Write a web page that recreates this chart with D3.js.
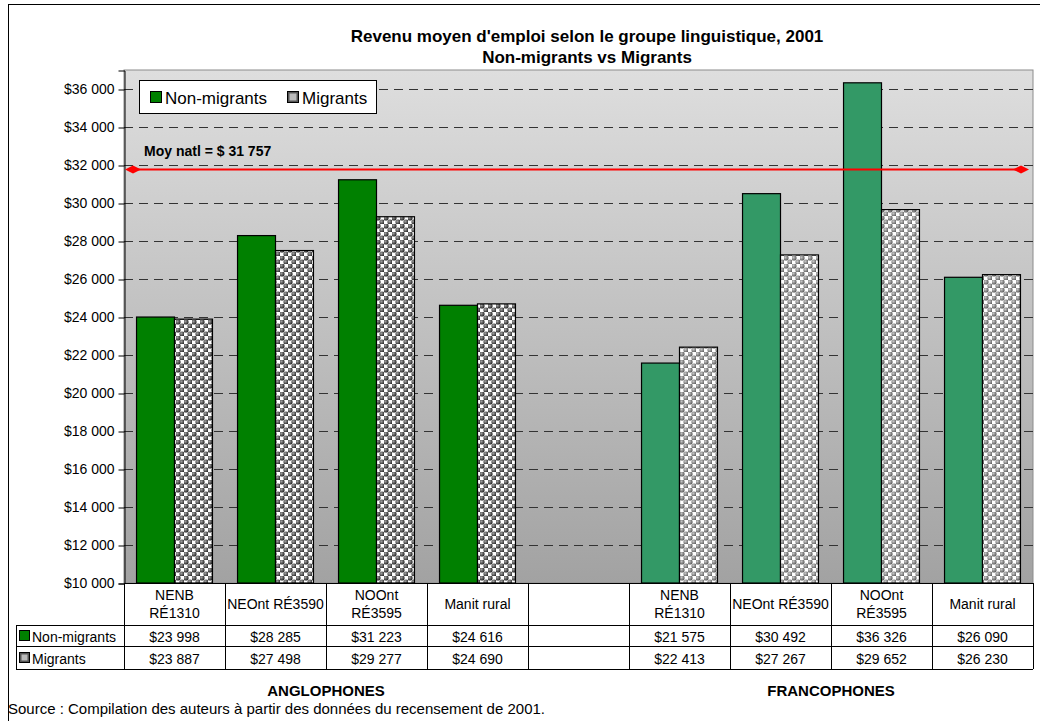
<!DOCTYPE html>
<html>
<head>
<meta charset="utf-8">
<script src="https://cdn.jsdelivr.net/npm/d3@7"></script>
<style>
  body { margin: 0; background: #fff; }
  text { font-family: "Liberation Sans", Arial, sans-serif; }
</style>
</head>
<body>
<script>
var width = 1040;
var height = 721;

// data
var categories = ["NENB\nRÉ1310", "NEOnt RÉ3590", "NOOnt\nRÉ3595", "Manit rural", "",
                  "NENB\nRÉ1310", "NEOnt RÉ3590", "NOOnt\nRÉ3595", "Manit rural"];
var nonMigrants = [23998, 28285, 31223, 24616, null, 21575, 30492, 36326, 26090];
var migrants    = [23887, 27498, 29277, 24690, null, 22413, 27267, 29652, 26230];
var groupOf     = ["a", "a", "a", "a", "", "f", "f", "f", "f"];
var yTicks = [10000, 12000, 14000, 16000, 18000, 20000, 22000, 24000, 26000, 28000, 30000, 32000, 34000, 36000];
var nationalAvg = 31757;
var groupLabels = ["ANGLOPHONES", "FRANCOPHONES"];

var plot = { left: 124, right: 1033, top: 70, bottom: 583 };

var svg = d3.select("body").append("svg")
    .attr("width", width)
    .attr("height", height);

var defs = svg.append("defs");

var bg = defs.append("linearGradient").attr("id", "bg")
    .attr("x1", 0).attr("y1", 0).attr("x2", 0).attr("y2", 1);
bg.append("stop").attr("offset", "0%").attr("stop-color", "#dedede");
bg.append("stop").attr("offset", "100%").attr("stop-color", "#a2a2a2");

// sphere patterns for migrants
function spherePattern(id, dark, light) {
  var g = defs.append("radialGradient").attr("id", id + "g")
      .attr("cx", "38%").attr("cy", "38%").attr("r", "62%");
  g.append("stop").attr("offset", "0%").attr("stop-color", light);
  g.append("stop").attr("offset", "100%").attr("stop-color", dark);
  var p = defs.append("pattern").attr("id", id)
      .attr("patternUnits", "userSpaceOnUse")
      .attr("width", 8).attr("height", 8);
  p.append("rect").attr("width", 8).attr("height", 8).attr("fill", "#fff");
  p.append("circle").attr("cx", 2).attr("cy", 2).attr("r", 2.6).attr("fill", "url(#" + id + "g)");
  p.append("circle").attr("cx", 6).attr("cy", 6).attr("r", 2.6).attr("fill", "url(#" + id + "g)");
}
spherePattern("patA", "#262626", "#a0a0a0");
spherePattern("patF", "#5e5e5e", "#c8c8c8");

var nonColor = { a: "#008000", f: "#339966" };
var migFill = { a: "url(#patA)", f: "url(#patF)" };

// outer frame
svg.append("rect")
    .attr("x", 8.5).attr("y", 4.5)
    .attr("width", 1040).attr("height", 730)
    .attr("fill", "none").attr("stroke", "#000");

var x = d3.scaleBand()
    .domain(d3.range(categories.length))
    .range([plot.left, plot.right]);

var xSub = d3.scaleBand()
    .domain(["n", "m"])
    .range([0, x.bandwidth()])
    .paddingOuter(0.33);

var y = d3.scaleLinear()
    .domain([10000, 37000])
    .range([plot.bottom, plot.top]);

// plot background
svg.append("rect")
    .attr("x", plot.left).attr("y", plot.top)
    .attr("width", plot.right - plot.left).attr("height", plot.bottom - plot.top)
    .attr("fill", "url(#bg)").attr("stroke", "#8c8c8c");

// gridlines
svg.append("g")
  .selectAll("line")
  .data(yTicks.slice(1))
  .enter().append("line")
    .attr("x1", plot.left).attr("x2", plot.right)
    .attr("y1", function(d) { return Math.round(y(d)) + 0.5; })
    .attr("y2", function(d) { return Math.round(y(d)) + 0.5; })
    .attr("stroke", "#333")
    .attr("stroke-dasharray", "9,6");

// y axis
var yAxis = svg.append("g")
    .attr("transform", "translate(" + (plot.left + 0.5) + ",0.5)")
    .call(d3.axisLeft(y)
      .tickValues(yTicks)
      .tickSize(6)
      .tickFormat(function(d) { return "$" + d3.format(",")(d).replace(",", " "); }));
yAxis.select(".domain").attr("stroke", "#000");
yAxis.selectAll(".tick line").attr("stroke", "#000");
yAxis.selectAll(".tick text")
    .attr("font-size", 14).attr("fill", "#000").attr("x", -10)
    .attr("font-family", "Liberation Sans, Arial, sans-serif");

// bars
var idx = d3.range(categories.length).filter(function(i) { return nonMigrants[i] != null; });

svg.append("g").selectAll("rect")
  .data(idx)
  .enter().append("rect")
    .attr("x", function(i) { return x(i) + xSub("n"); })
    .attr("y", function(i) { return y(nonMigrants[i]); })
    .attr("width", xSub.bandwidth())
    .attr("height", function(i) { return y(10000) - y(nonMigrants[i]); })
    .attr("fill", function(i) { return nonColor[groupOf[i]]; })
    .attr("stroke", "#000").attr("stroke-width", 1.2);

svg.append("g").selectAll("rect")
  .data(idx)
  .enter().append("rect")
    .attr("x", function(i) { return x(i) + xSub("m"); })
    .attr("y", function(i) { return y(migrants[i]); })
    .attr("width", xSub.bandwidth())
    .attr("height", function(i) { return y(10000) - y(migrants[i]); })
    .attr("fill", function(i) { return migFill[groupOf[i]]; })
    .attr("stroke", "#000").attr("stroke-width", 1.2);

// national average line
var avgY = y(nationalAvg);
svg.append("line")
    .attr("x1", plot.left + 8).attr("x2", plot.right - 8)
    .attr("y1", avgY).attr("y2", avgY)
    .attr("stroke", "#ff0000").attr("stroke-width", 2);
[plot.left + 9, plot.right - 12].forEach(function(cx) {
  svg.append("path")
      .attr("d", "M" + (cx - 8) + "," + avgY + "L" + cx + "," + (avgY - 4) + "L" + (cx + 8) + "," + avgY + "L" + cx + "," + (avgY + 4) + "Z")
      .attr("fill", "#ff0000");
});
svg.append("text")
    .attr("x", 144).attr("y", 156)
    .attr("font-size", 14).attr("font-weight", "bold")
    .text("Moy natl = $ " + d3.format(",")(nationalAvg).replace(",", " "));

// legend
var legend = svg.append("g");
legend.append("rect")
    .attr("x", 139.5).attr("y", 80.5).attr("width", 237).attr("height", 33)
    .attr("fill", "#fff").attr("stroke", "#000");
legend.append("rect")
    .attr("x", 150.5).attr("y", 91.5).attr("width", 11).attr("height", 11)
    .attr("fill", nonColor.a).attr("stroke", "#000");
legend.append("text").attr("x", 165).attr("y", 104).attr("font-size", 17).text("Non-migrants");
legend.append("rect")
    .attr("x", 287.5).attr("y", 91.5).attr("width", 11).attr("height", 11)
    .attr("fill", "#555").attr("stroke", "#000");
legend.append("rect")
    .attr("x", 289.5).attr("y", 93.5).attr("width", 7).attr("height", 7)
    .attr("fill", "#bbb");
legend.append("text").attr("x", 302).attr("y", 104).attr("font-size", 17).text("Migrants");

// title
var title = svg.append("text")
    .attr("x", 587).attr("text-anchor", "middle")
    .attr("font-size", 17).attr("font-weight", "bold");
title.append("tspan").attr("x", 587).attr("y", 42).text("Revenu moyen d'emploi selon le groupe linguistique, 2001");
title.append("tspan").attr("x", 587).attr("y", 63).text("Non-migrants vs Migrants");

// data table
var tbl = { left: 16, headBottom: 625, rowMid: 646, bottom: 669 };
var t = svg.append("g").attr("stroke", "#000").attr("shape-rendering", "crispEdges");
t.append("line").attr("x1", plot.left).attr("x2", plot.right).attr("y1", plot.bottom + 0.5).attr("y2", plot.bottom + 0.5);
[tbl.headBottom, tbl.rowMid, tbl.bottom].forEach(function(yy) {
  t.append("line").attr("x1", tbl.left).attr("x2", plot.right).attr("y1", yy + 0.5).attr("y2", yy + 0.5);
});
t.append("line").attr("x1", tbl.left + 0.5).attr("x2", tbl.left + 0.5).attr("y1", tbl.headBottom).attr("y2", tbl.bottom);
d3.range(categories.length + 1).forEach(function(i) {
  var xx = i < categories.length ? x(i) : plot.right;
  t.append("line").attr("x1", Math.round(xx) + 0.5).attr("x2", Math.round(xx) + 0.5)
      .attr("y1", plot.bottom).attr("y2", tbl.bottom);
});

categories.forEach(function(c, i) {
  var lines = c.split("\n");
  var cx = x(i) + x.bandwidth() / 2;
  var txt = svg.append("text").attr("text-anchor", "middle").attr("font-size", 14);
  lines.forEach(function(l, k) {
    var yy = lines.length == 1 ? 609 : 600 + k * 18;
    txt.append("tspan").attr("x", cx).attr("y", yy).text(l);
  });
});

function fmt(v) { return v == null ? "" : "$" + d3.format(",")(v).replace(",", " "); }

svg.append("g").selectAll("text")
  .data(idx).enter().append("text")
    .attr("x", function(i) { return x(i) + x.bandwidth() / 2; })
    .attr("y", 642).attr("text-anchor", "middle").attr("font-size", 14)
    .text(function(i) { return fmt(nonMigrants[i]); });
svg.append("g").selectAll("text")
  .data(idx).enter().append("text")
    .attr("x", function(i) { return x(i) + x.bandwidth() / 2; })
    .attr("y", 664).attr("text-anchor", "middle").attr("font-size", 14)
    .text(function(i) { return fmt(migrants[i]); });

// row keys
svg.append("rect").attr("x", 19.5).attr("y", 630.5).attr("width", 10).attr("height", 10)
    .attr("fill", nonColor.a).attr("stroke", "#000");
svg.append("text").attr("x", 32).attr("y", 642).attr("font-size", 14).text("Non-migrants");
svg.append("rect").attr("x", 19.5).attr("y", 652.5).attr("width", 10).attr("height", 10)
    .attr("fill", "#555").attr("stroke", "#000");
svg.append("rect").attr("x", 21.5).attr("y", 654.5).attr("width", 6).attr("height", 6)
    .attr("fill", "#bbb");
svg.append("text").attr("x", 32).attr("y", 664).attr("font-size", 14).text("Migrants");

// group labels
svg.append("text").attr("x", (x(0) + x(3) + x.bandwidth()) / 2).attr("y", 696)
    .attr("text-anchor", "middle").attr("font-size", 15).attr("font-weight", "bold").text(groupLabels[0]);
svg.append("text").attr("x", (x(5) + x(8) + x.bandwidth()) / 2).attr("y", 696)
    .attr("text-anchor", "middle").attr("font-size", 15).attr("font-weight", "bold").text(groupLabels[1]);

// source
svg.append("text").attr("x", 8).attr("y", 714).attr("font-size", 15)
    .text("Source : Compilation des auteurs à partir des données du recensement de 2001.");
</script>
</body>
</html>
